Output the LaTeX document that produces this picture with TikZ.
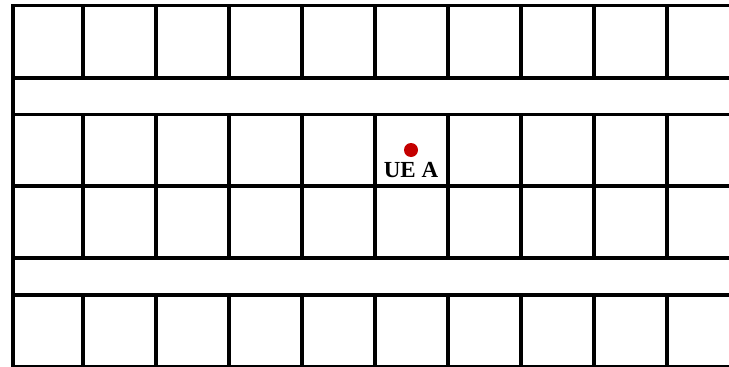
\documentclass[tikz,border=0pt]{standalone}
\usepackage{fontspec}
\setmainfont{Liberation Serif}
\usepackage{xcolor}
\usepackage{tikz}
\usetikzlibrary{positioning}

\definecolor{uered}{RGB}{196,0,0}

\begin{document}
\begin{tikzpicture}[
  x=1pt, y=-1pt,
  wall/.style={line width=3.6pt, line cap=rect},
  ue/.style={circle, fill=uered, inner sep=0pt, minimum size=14pt},
  uelabel/.style={font=\fontsize{23}{23}\selectfont\bfseries, inner sep=0pt}
]
\useasboundingbox (0,0) rectangle (729,367);
\clip (0,0) rectangle (729,367);
% streets and block edges
\foreach \y in {5.5,78,114.5,186,258,295,366.5}
  \draw[wall] (13,\y) -- (740,\y);
\draw[wall] (13,5.5) -- (13,380);
% building walls, block by block
\foreach \x in {83,156,229,302,375,448,521,594,667} {
  \draw[wall] (\x,5.5) -- (\x,78);
  \draw[wall] (\x,114.5) -- (\x,258);
  \draw[wall] (\x,295) -- (\x,380);
}
% the user
\node[ue] (uea) at (411,150) {};
\node[uelabel, below=5pt of uea] (uetext) {UE A};
\end{tikzpicture}
\end{document}
